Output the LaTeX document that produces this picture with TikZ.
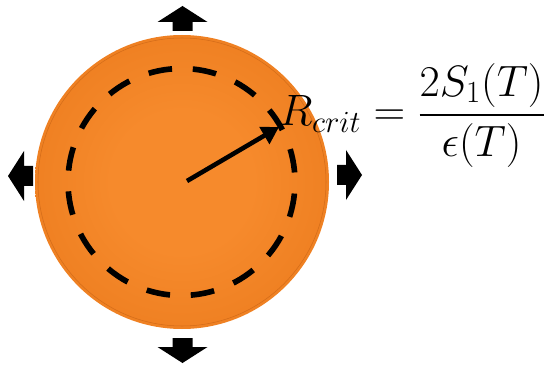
\documentclass[tikz,border=0pt]{standalone}
\usepackage{fix-cm}
\usepackage{xcolor}
\usepackage{amsmath}
\usepackage{tikz}
\usetikzlibrary{arrows.meta, positioning, calc}
\definecolor{ballin}{RGB}{246,138,44}
\definecolor{ballout}{RGB}{226,110,16}
\definecolor{ringdark}{RGB}{200,98,20}
\definecolor{mydark}{RGB}{0,0,0}
\pgfdeclareradialshading{orangeball}{\pgfpointorigin}{%
  color(0bp)=(ballin); color(12bp)=(ballin); color(50bp)=(ballout)}
\tikzset{
  ball/.style={shading=orangeball},
  ringline/.style={draw=ringdark, line width=0.3pt, opacity=0.7},
  critcircle/.style={draw=mydark, line width=3.2pt,
    dash pattern=on 0.476cm off 0.415cm, dash phase=0.70cm},
  radarrow/.style={-{Triangle[length=0.34cm,width=0.38cm]}, line width=2.6pt, color=mydark},
  eqn/.style={inner sep=0pt, font=\fontsize{25}{30}\selectfont},
  pushout/.pic={
    \fill[mydark] (-0.2,0) -- (-0.2,0.18) -- (-0.5,0.18) -- (0,0.5)
      -- (0.5,0.18) -- (0.2,0.18) -- (0.2,0) -- cycle;
  }
}

\begin{document}
\begin{tikzpicture}
  \useasboundingbox (0,0) rectangle (11,7.3);
  % droplet
  \coordinate (ballc) at (3.64,3.66);
  \shade[ball] (ballc) circle (2.94);
  \draw[ringline] (ballc) circle (2.88);
  % critical radius
  \coordinate (critc) at (3.63,3.66);
  \draw[critcircle] (critc) circle (2.27);
  \coordinate (ctr) at (3.74,3.68);
  \coordinate (rtip) at (5.58,4.76);
  \draw[radarrow] (ctr) -- (rtip);
  \node[eqn, anchor=base west] (rcrit) at (5.58,4.78)
    {$R_{crit}=\dfrac{2S_1(T)}{\epsilon(T)}$};
  % growth arrows
  \pic at (3.65,6.68) {pushout};
  \pic[rotate=180] at (3.65,0.54) {pushout};
  \pic[rotate=90] at (0.66,3.78) {pushout};
  \pic[rotate=-90] at (6.74,3.80) {pushout};
\end{tikzpicture}
\end{document}
